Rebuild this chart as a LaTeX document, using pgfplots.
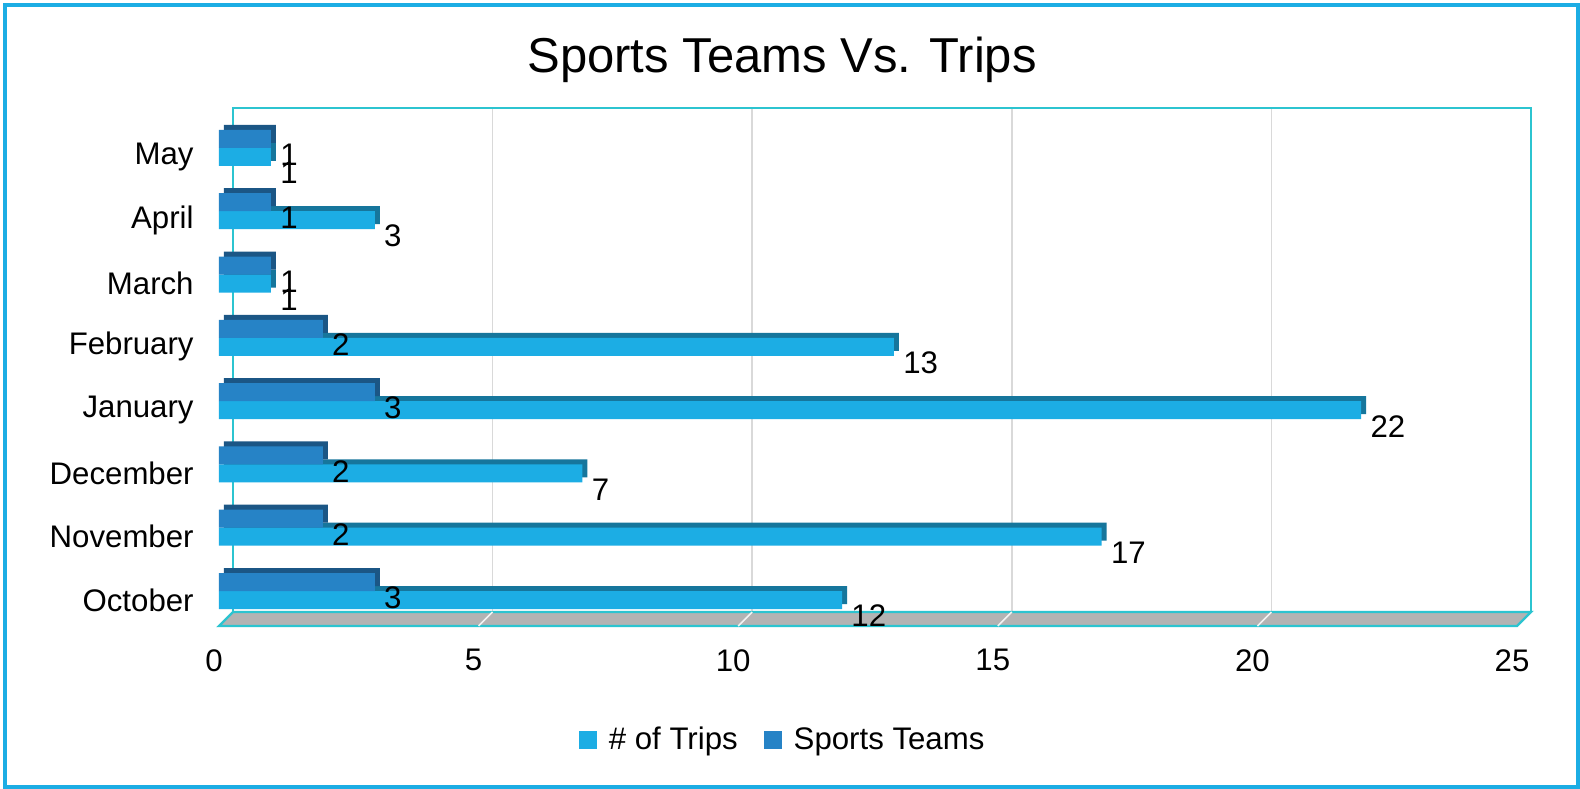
\documentclass[border=0pt]{standalone}
\usepackage{pgfplots}
\pgfplotsset{compat=1.18}
\usepackage{fontspec}
\setmainfont{Liberation Sans}
\definecolor{trips}{HTML}{1CADE4}
\definecolor{tripsdark}{HTML}{16769C}
\definecolor{teams}{HTML}{2683C6}
\definecolor{teamsdark}{HTML}{1B5685}
\definecolor{wall}{HTML}{2CC4D0}
\definecolor{gridc}{HTML}{D9D9D9}
\definecolor{floorc}{HTML}{B3B3B3}
\definecolor{frame}{HTML}{1CADE4}

% months from bottom (0) to top (7)
\pgfplotstableread{
pos trips teams
0 12 3
1 17 2
2 7 2
3 22 3
4 13 2
5 1 1
6 3 1
7 1 1
}\datatable

\begin{document}
\begin{tikzpicture}
\useasboundingbox (0,0) rectangle (790pt,394pt);
\fill[white] (0,0) rectangle (790pt,394pt);
\draw[frame, line width=2pt] (2.5pt,0.5pt) rectangle (788.75pt,391.5pt);
\node[font=\fontsize{24.5}{28}\selectfont] at (391pt,364pt) {Sports Teams Vs. Trips};

\begin{axis}[
    at={(109.5pt,81pt)}, anchor=south west,
    scale only axis,
    width=649pt, height=252pt,
    xbar,
    bar width=9pt,
    xmin=0, xmax=25,
    ymin=-0.553, ymax=7.41,
    xtick={0,5,...,25},
    ytick={0,...,7},
    yticklabels={October,November,December,January,February,March,April,May},
    axis line style={draw=none},
    major tick length=0pt,
    tick label style={font=\fontsize{15.6}{18}\selectfont},
    /pgf/number format/assume math mode=true,
    xticklabel style={inner sep=0pt, anchor=north, yshift=-11.5pt, xshift=-2.5pt},
    yticklabel style={inner sep=0pt, anchor=east, xshift=-12.5pt, yshift=-4.5pt},
    legend style={at={(0.435,-0.226)}, anchor=center, draw=none, fill=none,
        legend columns=2, font=\fontsize{15.6}{18}\selectfont,
        /tikz/every odd column/.append style={column sep=4pt},
        /tikz/every even column/.append style={column sep=11pt}},
    legend image code/.code={\fill[#1] (0pt,-4.5pt) rectangle (9pt,4.5pt);},
    clip=false,
]
% back wall grid lines
\foreach \g in {5,10,15,20} {
  \edef\tmp{\noexpand\draw[gridc, line width=0.8pt] ([shift={(7pt,7pt)}]axis cs:\g,-0.553) -- ([shift={(7pt,7pt)}]axis cs:\g,7.41);}
  \tmp
}
% back wall frame
\draw[wall, line width=1.2pt] ([shift={(7pt,7pt)}]axis cs:0,-0.553) rectangle ([shift={(7pt,7pt)}]axis cs:25,7.41);
% floor
\draw[wall, fill=floorc, line width=1.2pt] (axis cs:0,-0.553) -- (axis cs:25,-0.553)
  -- ([shift={(7pt,7pt)}]axis cs:25,-0.553) -- ([shift={(7pt,7pt)}]axis cs:0,-0.553) -- cycle;
\foreach \g in {5,10,15,20} {
  \edef\tmp{\noexpand\draw[white!90!gray, line width=0.8pt] (axis cs:\g,-0.553) -- ([shift={(7pt,7pt)}]axis cs:\g,-0.553);}
  \tmp
}

% bars: shaded depth copy, then front face
\addplot[forget plot, fill=tripsdark, draw=none, bar shift=-4.5pt, xshift=2.5pt, yshift=2.5pt]
  table[x=trips, y=pos] {\datatable};
\addplot[fill=trips, draw=none, bar shift=-4.5pt,
  nodes near coords, nodes near coords style={anchor=west, inner sep=0pt, xshift=4.5pt, yshift=-8pt, font=\fontsize{15.6}{18}\selectfont, black}]
  table[x=trips, y=pos] {\datatable};
\addlegendentry{\# of Trips}
\addplot[forget plot, fill=teamsdark, draw=none, bar shift=4.5pt, xshift=2.5pt, yshift=2.5pt]
  table[x=teams, y=pos] {\datatable};
\addplot[fill=teams, draw=none, bar shift=4.5pt,
  nodes near coords, nodes near coords style={anchor=west, inner sep=0pt, xshift=4.5pt, yshift=-8pt, font=\fontsize{15.6}{18}\selectfont, black}]
  table[x=teams, y=pos] {\datatable};
\addlegendentry{Sports Teams}
\end{axis}
\end{tikzpicture}
\end{document}
